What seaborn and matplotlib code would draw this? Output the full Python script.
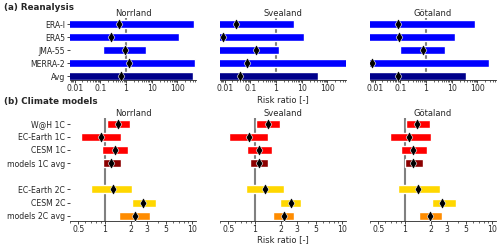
import numpy as np
import matplotlib
matplotlib.use("Agg")
import matplotlib.pyplot as plt
import matplotlib.ticker as mticker
import seaborn as sns

# regions (columns)
regions = ["Norrland", "Svealand", "Götaland"]

# (a) reanalyses: lower bound, upper bound, best estimate (risk ratio)
rean_labels = ["ERA-I", "ERA5", "JMA-55", "MERRA-2", "Avg"]
rean_colors = ["blue", "blue", "blue", "blue", "darkblue"]
LOW = 1e-4  # interval open to the left
rean_lo = {
    "Norrland": [LOW, LOW, 0.13, LOW, LOW],
    "Svealand": [LOW, LOW, LOW, LOW, LOW],
    "Götaland": [LOW, LOW, 0.096, LOW, LOW],
}
rean_hi = {
    "Norrland": [455, 115, 5.8, 500, 415],
    "Svealand": [5.0, 11.8, 1.31, 2000, 42],
    "Götaland": [77, 13, 5.5, 282, 36],
}
rean_best = {
    "Norrland": [0.55, 0.25, 0.94, 1.27, 0.64],
    "Svealand": [0.028, 0.0085, 0.16, 0.074, 0.041],
    "Götaland": [0.078, 0.086, 0.78, 0.0078, 0.078],
}

# (b) climate models
mod_labels = ["W@H 1C", "EC-Earth 1C", "CESM 1C", "models 1C avg",
              "EC-Earth 2C", "CESM 2C", "models 2C avg"]
mod_colors = ["red", "red", "red", "darkred", "gold", "gold", "darkorange"]
mod_lo = {
    "Norrland": [1.06, 0.54, 0.92, 0.95, 0.69, 2.05, 1.47],
    "Svealand": [1.03, 0.51, 0.81, 0.88, 0.80, 1.95, 1.63],
    "Götaland": [1.02, 0.67, 0.90, 1.01, 0.84, 2.03, 1.45],
}
mod_hi = {
    "Norrland": [1.96, 1.55, 1.85, 1.51, 2.04, 3.87, 3.30],
    "Svealand": [1.96, 1.40, 1.56, 1.40, 2.13, 3.38, 2.83],
    "Götaland": [1.93, 2.01, 1.78, 1.63, 2.51, 3.88, 2.69],
}
mod_best = {
    "Norrland": [1.43, 0.91, 1.30, 1.18, 1.24, 2.75, 2.21],
    "Svealand": [1.43, 0.85, 1.11, 1.11, 1.29, 2.56, 2.14],
    "Götaland": [1.39, 1.12, 1.24, 1.24, 1.42, 2.69, 1.96],
}

rean_ticks = [0.01, 0.1, 1, 10, 100]
rean_ticklabels = ["0.01", "0.1", "1", "10", "100"]
mod_ticks = [0.5, 1, 2, 3, 5, 10]
mod_ticklabels = ["0.5", "1", "2", "3", "5", "10"]

sns.set_style("ticks")
plt.rcParams.update({
    "font.family": ["DejaVu Sans"],
    "font.size": 5.6,
    "xtick.labelsize": 5.6,
    "ytick.labelsize": 5.6,
    "xtick.major.size": 2.0,
    "xtick.minor.size": 1.2,
    "ytick.major.size": 2,
    "xtick.major.pad": 0.8,
    "ytick.major.pad": 1.5,
    "axes.linewidth": 0.6,
    "xtick.major.width": 0.6,
    "xtick.minor.width": 0.5,
    "ytick.major.width": 0.6,
})

fig = plt.figure(figsize=(5, 2.45), dpi=100)
W, H = 500, 245
lefts = [70, 220, 370]
axw = 126


def draw_panel(ax, labels, colors, lo, hi, best, ypos, xlim, ylim, ticks, ticklabels):
    lo = np.array(lo, dtype=float)
    hi = np.array(hi, dtype=float)
    ax.axvline(1, color="grey", lw=1.5, zorder=0)
    ax.barh(ypos, hi - lo, left=lo, height=0.6, color=colors, zorder=2)
    sns.scatterplot(x=best, y=ypos, ax=ax, marker="d", s=32, color="black",
                    edgecolor="white", linewidth=0.4, zorder=3, legend=False)
    ax.set_xscale("log")
    ax.set_xlim(*xlim)
    ax.set_ylim(*ylim)
    ax.set_xticks(ticks)
    ax.set_xticklabels(ticklabels)
    ax.xaxis.set_minor_formatter(mticker.NullFormatter())
    ax.set_yticks(ypos)
    ax.set_yticklabels(labels)
    sns.despine(ax=ax, left=True)
    ax.set_ylabel("")


top_pos = list(range(len(rean_labels)))
bot_pos = [i + (1 if i >= 4 else 0) for i in range(len(mod_labels))]

for i, reg in enumerate(regions):
    ax = fig.add_axes([lefts[i] / W, 1 - 80.5 / H, axw / W, 62.5 / H])
    draw_panel(ax, rean_labels, rean_colors, rean_lo[reg], rean_hi[reg],
               rean_best[reg], top_pos, (0.0066, 525), (4.33, -0.48),
               rean_ticks, rean_ticklabels)
    ax.set_title(reg, fontsize=6, pad=0.5, color=".15")
    if i > 0:
        ax.tick_params(axis="y", left=False, labelleft=False)
    if i == 1:
        ax.set_xlabel("Risk ratio [-]", fontsize=6, labelpad=1)

    ax = fig.add_axes([lefts[i] / W, 1 - 221 / H, axw / W, 102.7 / H])
    draw_panel(ax, mod_labels, mod_colors, mod_lo[reg], mod_hi[reg],
               mod_best[reg], bot_pos, (0.4, 11), (7.4, -0.41),
               mod_ticks, mod_ticklabels)
    ax.set_title(reg, fontsize=6, pad=1.2, color=".15")
    if i > 0:
        ax.tick_params(axis="y", left=False, labelleft=False)
    if i == 1:
        ax.set_xlabel("Risk ratio [-]", fontsize=6, labelpad=1)

fig.text(4 / W, 1 - 8 / H, "(a) Reanalysis", fontsize=6.3, weight="bold", va="center")
fig.text(4 / W, 1 - 101 / H, "(b) Climate models", fontsize=6.3, weight="bold", va="center")

fig.savefig("out.png", dpi=100)
